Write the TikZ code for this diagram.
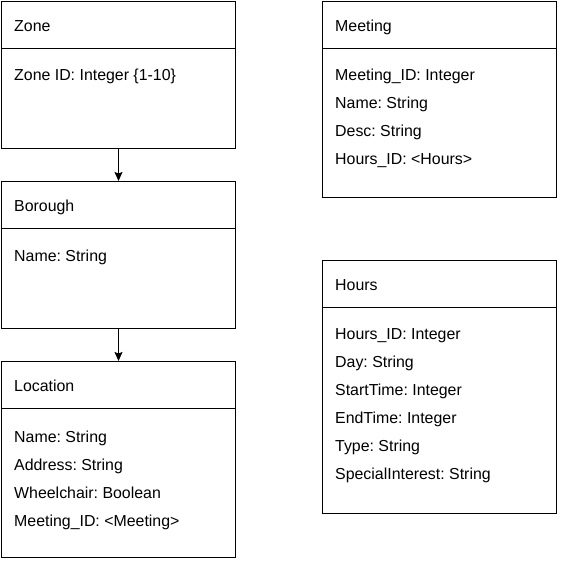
\documentclass[tikz,border=0pt]{standalone}
\usepackage{fontspec}
\setmainfont{Liberation Sans}
\frenchspacing
\usetikzlibrary{arrows.meta}
\begin{document}
\begin{tikzpicture}[x=1pt, y=-1pt,
    classbox/.style={draw, line width=1pt, anchor=north west, inner sep=0pt, minimum width=234pt},
    attr/.style={anchor=west, inner sep=0pt, text height=11.5pt, text depth=0pt, font=\fontsize{15.9}{18}\selectfont},
    link/.style={line width=1pt, -{Stealth[length=9pt,width=8pt,inset=1.5pt]}}]
  \useasboundingbox (0,0) rectangle (562,563);
  % 左の列
  \node[classbox, minimum height=147pt] (zone) at (1,1) {};
  \node[classbox, minimum height=147pt] (borough) at (1,181) {};
  \node[classbox, minimum height=196pt] (location) at (1,361) {};
  % 右の列
  \node[classbox, minimum height=196pt] (meeting) at (322,1) {};
  \node[classbox, minimum height=253pt] (hours) at (322,260) {};
  % 見出しの区切り線
  \foreach \c in {zone, borough, location, meeting, hours}
    \draw[line width=1pt] ([yshift=-47pt]\c.north west) -- ([yshift=-47pt]\c.north east);
  % 見出し
  \node[attr] (zone-title) at (14,26) {Zone};
  \node[attr] (borough-title) at (14,206) {Borough};
  \node[attr] (location-title) at (14,386) {Location};
  \node[attr] (meeting-title) at (335,26) {Meeting};
  \node[attr] (hours-title) at (335,285) {Hours};
  % 属性
  \node[attr] (zone-1) at (14,75) {Zone ID: Integer \{1-10\}};
  \node[attr] (borough-1) at (14,256) {Name: String};
  \foreach \a [count=\i] in {Name: String, Address: String, Wheelchair: Boolean, Meeting\_ID: <Meeting>}
    \node[attr] (location-\i) at (14,{409+28*\i}) {\a};
  \foreach \a [count=\i] in {Meeting\_ID: Integer, Name: String, Desc: String, Hours\_ID: <Hours>}
    \node[attr] (meeting-\i) at (335,{47+28*\i}) {\a};
  \foreach \a [count=\i] in {Hours\_ID: Integer, Day: String, StartTime: Integer, EndTime: Integer, Type: String, SpecialInterest: String}
    \node[attr] (hours-\i) at (335,{306+28*\i}) {\a};
  % 関連
  \draw[link] (zone.south) -- (borough.north);
  \draw[link] (borough.south) -- (location.north);
\end{tikzpicture}
\end{document}
